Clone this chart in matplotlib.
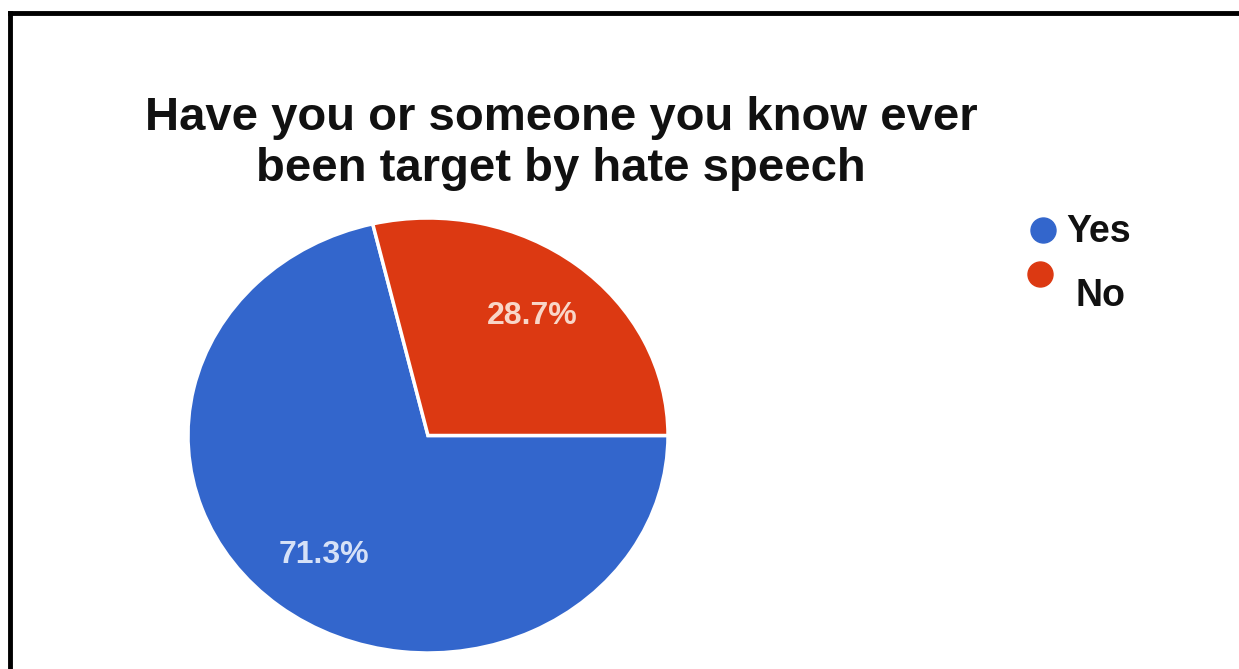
import matplotlib
matplotlib.use('Agg')
import matplotlib.pyplot as plt
from matplotlib.lines import Line2D

labels = ['Yes', 'No']
shares = [71.3, 28.7]
colors = ['#3366cc', '#dc3912']
title = 'Have you or someone you know ever\nbeen target by hate speech'

W, H = 1239, 669
fig = plt.figure(figsize=(W / 100, H / 100), dpi=100)
fig.patch.set_facecolor('white')

# frame lines on the left and top
fig.add_artist(Line2D([10 / W, 10 / W], [0, 1 - 13 / H], color='black', lw=3.5))
fig.add_artist(Line2D([10 / W, 1], [1 - 13 / H, 1 - 13 / H], color='black', lw=3.5))

# pie area (slightly stretched horizontally)
ax = fig.add_axes([188 / W, (H - 653) / H, 480 / W, 435 / H])
wedges, texts, autotexts = ax.pie(
    shares, colors=colors, startangle=shares[1] * 3.6, counterclock=True,
    autopct='%1.1f%%', pctdistance=0.70,
    wedgeprops=dict(edgecolor='white', linewidth=2.5),
    textprops=dict(fontsize=23, fontweight='bold', family='Liberation Sans'))
for t, c in zip(autotexts, ['#d6e1f7', '#f8d6c8']):
    t.set_color(c)
ax.set_aspect('auto')
ax.set_xlim(-1, 1)
ax.set_ylim(-1, 1)

fig.text(561 / W, 1 - 96 / H, title, ha='center', va='top',
         fontsize=34, fontweight='bold', family='Liberation Sans',
         linespacing=1.22, color='#111111')

# legend
leg_pos = [(1043, 230, 1066, 232), (1040, 274, 1075, 296)]
for lab, col, (mx, my, tx, ty) in zip(labels, colors, leg_pos):
    fig.add_artist(Line2D([mx / W], [1 - my / H], marker='o', markersize=18,
                          color=col, linestyle=''))
    fig.text(tx / W, 1 - ty / H, lab, ha='left', va='center', fontsize=27,
             fontweight='bold', family='Liberation Sans', color='#111111')

fig.savefig('out.png', dpi=100)
